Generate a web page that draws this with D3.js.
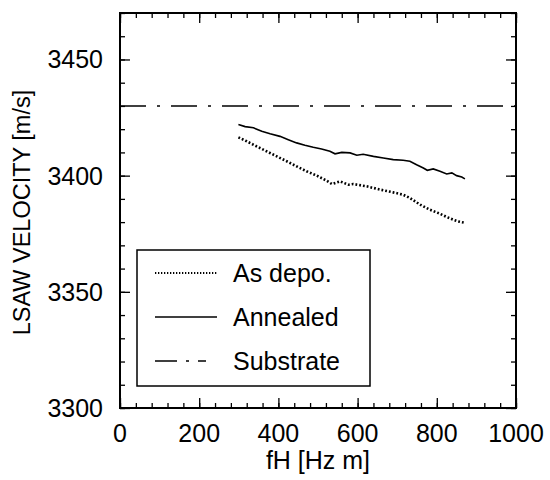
<!DOCTYPE html>
<html>
<head>
<meta charset="utf-8">
<script src="https://cdn.jsdelivr.net/npm/d3@7"></script>
<style>
  body { margin: 0; background: #fff; }
  svg text { font-family: "Liberation Sans", Arial, Helvetica, sans-serif; fill: #000; }
</style>
</head>
<body>
<svg id="chart" width="550" height="480"></svg>
<script>
// fH [Hz m] vs LSAW velocity [m/s]
var asDepoFH  = [299, 320, 345, 370, 396, 421, 446, 471, 497, 522, 535, 556, 577, 589, 623, 657, 690, 715, 732, 758, 783, 808, 825, 842, 854, 868];
var asDepoV   = [3416.5, 3414.8, 3412.6, 3410.5, 3408.3, 3406.2, 3404.0, 3401.9, 3400.0, 3397.8, 3396.4, 3397.5, 3396.1, 3396.4, 3395.4, 3394.0, 3392.8, 3391.8, 3390.4, 3387.5, 3385.3, 3383.6, 3382.2, 3381.0, 3380.3, 3379.8];
var annealedFH = [299, 316, 337, 358, 379, 404, 425, 446, 467, 488, 509, 530, 543, 560, 581, 598, 614, 640, 665, 690, 715, 732, 749, 766, 776, 791, 808, 825, 838, 850, 863, 871];
var annealedV  = [3422.0, 3421.1, 3420.6, 3419.1, 3418.0, 3416.9, 3415.5, 3414.1, 3413.1, 3412.2, 3411.5, 3410.5, 3409.4, 3410.0, 3409.8, 3408.8, 3409.2, 3408.3, 3407.6, 3406.9, 3406.6, 3406.2, 3404.7, 3403.3, 3402.3, 3402.9, 3401.9, 3400.7, 3401.2, 3400.0, 3399.4, 3398.6];
var substrateV = 3430;
var xTicks = [0, 200, 400, 600, 800, 1000];
var yTicks = [3300, 3350, 3400, 3450];
var legendNames = ['As depo.', 'Annealed', 'Substrate'];

var margin = { top: 13, right: 34, bottom: 72, left: 120 },
    width = 550 - margin.left - margin.right,
    height = 480 - margin.top - margin.bottom;

var svg = d3.select('#chart'),
    g = svg.append('g').attr('transform', 'translate(' + margin.left + ',' + margin.top + ')');

var x = d3.scaleLinear().domain([0, 1000]).range([0, width]),
    y = d3.scaleLinear().domain([3300, 3470]).range([height, 0]);

var xMinor = d3.range(0, 1001, 40),
    yMinor = d3.range(3300, 3471, 10);

// ticks, all pointing inward
function tickAxis( axisFn, scale, values, size, transform ){
    g.append('g')
        .attr('transform', transform)
        .call( axisFn(scale).tickValues(values).tickSize(size).tickFormat('') )
        .call(function(s){ s.select('.domain').remove(); s.selectAll('line').attr('stroke-width', 1.3); });
}
tickAxis( d3.axisTop,    x, xMinor, 5,  'translate(0,' + height + ')' );
tickAxis( d3.axisTop,    x, xTicks, 10, 'translate(0,' + height + ')' );
tickAxis( d3.axisBottom, x, xMinor, 5,  'translate(0,0)' );
tickAxis( d3.axisBottom, x, xTicks, 10, 'translate(0,0)' );
tickAxis( d3.axisRight,  y, yMinor, 5,  'translate(0,0)' );
tickAxis( d3.axisRight,  y, yTicks, 10, 'translate(0,0)' );
tickAxis( d3.axisLeft,   y, yMinor, 5,  'translate(' + width + ',0)' );
tickAxis( d3.axisLeft,   y, yTicks, 10, 'translate(' + width + ',0)' );

// tick labels
g.selectAll('.xl').data(xTicks).enter().append('text')
    .attr('x', function(d){ return x(d); })
    .attr('y', height + 34)
    .attr('text-anchor', 'middle')
    .attr('font-size', 25)
    .text(function(d){ return d; });

g.selectAll('.yl').data(yTicks).enter().append('text')
    .attr('x', -17)
    .attr('y', function(d){ return y(d) + 9; })
    .attr('text-anchor', 'end')
    .attr('font-size', 25)
    .text(function(d){ return d; });

// axis titles
svg.append('text')
    .attr('x', margin.left + width / 2)
    .attr('y', 469)
    .attr('text-anchor', 'middle')
    .attr('font-size', 25)
    .text('fH [Hz m]');

svg.append('text')
    .attr('transform', 'translate(30,' + (margin.top + height / 2 + 2) + ') rotate(-90)')
    .attr('text-anchor', 'middle')
    .attr('font-size', 23.5)
    .text('LSAW VELOCITY [m/s]');

// series
var line = d3.line()
    .x(function(d){ return x(d[0]); })
    .y(function(d){ return y(d[1]); });

g.append('path')
    .datum(d3.zip(annealedFH, annealedV))
    .attr('d', line)
    .attr('fill', 'none')
    .attr('stroke', '#000')
    .attr('stroke-width', 1.6);

g.append('path')
    .datum(d3.zip(asDepoFH, asDepoV))
    .attr('d', line)
    .attr('fill', 'none')
    .attr('stroke', '#000')
    .attr('stroke-width', 2.6)
    .attr('stroke-dasharray', '1.8,2');

g.append('line')
    .attr('x1', x(0)).attr('x2', x(1000))
    .attr('y1', y(substrateV)).attr('y2', y(substrateV))
    .attr('stroke', '#000')
    .attr('stroke-width', 1.5)
    .attr('stroke-dasharray', '26,11,3,11');

// frame
g.append('rect')
    .attr('width', width).attr('height', height)
    .attr('fill', 'none')
    .attr('stroke', '#000')
    .attr('stroke-width', 2);

// legend
var leg = svg.append('g').attr('transform', 'translate(137,250)');
leg.append('rect')
    .attr('width', 233).attr('height', 136)
    .attr('fill', '#fff')
    .attr('stroke', '#000')
    .attr('stroke-width', 1.5);

var dashes = ['1.3,1.7', null, '22,9,3,9,8'],
    widths = [2, 1.6, 1.5];
var rows = leg.selectAll('.row').data(legendNames).enter().append('g')
    .attr('transform', function(d, i){ return 'translate(0,' + (23 + i * 44) + ')'; });

rows.append('line')
    .attr('x1', 18).attr('x2', 80)
    .attr('stroke', '#000')
    .attr('stroke-width', function(d, i){ return widths[i]; })
    .attr('stroke-dasharray', function(d, i){ return dashes[i]; });

rows.append('text')
    .attr('x', 96)
    .attr('y', 9)
    .attr('font-size', 25)
    .text(function(d){ return d; });
</script>
</body>
</html>
